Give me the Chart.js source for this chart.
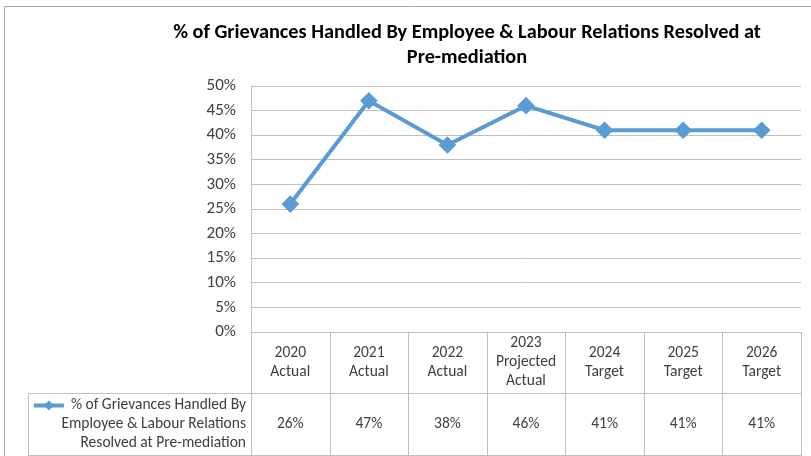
<!DOCTYPE html>
<html>
<head>
<meta charset="utf-8">
<script src="https://cdn.jsdelivr.net/npm/chart.js@4"></script>
<style>
  body { margin: 0; background: #fff; }
  #wrap { position: relative; width: 811px; height: 456px; }
</style>
</head>
<body>
<div id="wrap"><canvas id="myChart"></canvas></div>
<script>
const FONT = "Carlito, Lato, sans-serif";

const categories = [
  ["2020", "Actual"],
  ["2021", "Actual"],
  ["2022", "Actual"],
  ["2023", "Projected", "Actual"],
  ["2024", "Target"],
  ["2025", "Target"],
  ["2026", "Target"],
];
const resolvedPct = [26, 47, 38, 46, 41, 41, 41];
const seriesName = ["% of Grievances Handled By", "Employee & Labour Relations", "Resolved at Pre-mediation"];
const titleLines = ["% of Grievances Handled By Employee & Labour Relations Resolved at", "Pre-mediation"];
const yTicks = [0, 5, 10, 15, 20, 25, 30, 35, 40, 45, 50];

const lineColor = "#5B9BD5";
const gridColor = "#c0c0c0";
const textColor = "#404040";

// title, chart border and the Excel style data table under the plot
const dataTable = {
  id: "dataTable",
  afterDraw(chart) {
    const c = chart.ctx;
    const area = chart.chartArea;
    const x = chart.scales.x;
    const n = categories.length;
    const w = (area.right - area.left) / n;
    const top = area.bottom;
    const mid = top + 61;
    const bot = top + 124;
    const legLeft = 28;

    c.save();
    c.strokeStyle = "#a6a6a6";
    c.lineWidth = 1;
    c.beginPath();
    c.moveTo(4.5, 470);
    c.lineTo(4.5, 6.5);
    c.lineTo(830, 6.5);
    c.stroke();

    c.fillStyle = "#000";
    c.font = "bold 20.3px " + FONT;
    c.textAlign = "center";
    c.textBaseline = "middle";
    c.fillText(titleLines[0], 467, 33);
    c.fillText(titleLines[1], 467, 58);

    c.strokeStyle = gridColor;
    c.beginPath();
    for (let i = 0; i <= n; i++) {
      const lx = Math.round(area.left + i * w) + 0.5;
      c.moveTo(lx, top);
      c.lineTo(lx, bot);
    }
    c.moveTo(legLeft + 0.5, mid + 0.5);
    c.lineTo(area.right, mid + 0.5);
    c.moveTo(legLeft + 0.5, bot - 0.5);
    c.lineTo(area.right, bot - 0.5);
    c.moveTo(legLeft + 0.5, mid);
    c.lineTo(legLeft + 0.5, bot);
    c.stroke();

    c.fillStyle = textColor;
    c.font = "15.5px " + FONT;
    const lh = 19;
    categories.forEach((lines, i) => {
      const cx = x.getPixelForValue(i);
      const y0 = (top + mid) / 2 - (lines.length - 1) * lh / 2;
      lines.forEach((t, k) => c.fillText(t, cx, y0 + k * lh));
      c.fillText(resolvedPct[i] + "%", cx, (mid + bot) / 2);
    });

    // legend cell
    c.textAlign = "right";
    const ly0 = (mid + bot) / 2 - lh;
    seriesName.forEach((t, k) => c.fillText(t, area.left - 5, ly0 + k * lh));
    const tw = c.measureText(seriesName[0]).width;
    const kx = area.left - 5 - tw - 37;
    c.strokeStyle = lineColor;
    c.lineWidth = 4;
    c.beginPath();
    c.moveTo(kx, ly0);
    c.lineTo(kx + 30, ly0);
    c.stroke();
    c.fillStyle = lineColor;
    c.beginPath();
    c.moveTo(kx + 15, ly0 - 5);
    c.lineTo(kx + 20, ly0);
    c.lineTo(kx + 15, ly0 + 5);
    c.lineTo(kx + 10, ly0);
    c.closePath();
    c.fill();
    c.restore();
  },
};

new Chart(document.getElementById("myChart"), {
  type: "line",
  data: {
    labels: categories,
    datasets: [
      {
        label: seriesName.join(" "),
        data: resolvedPct,
        borderColor: lineColor,
        backgroundColor: lineColor,
        borderWidth: 4,
        pointStyle: "rectRot",
        radius: 6,
        hoverRadius: 6,
        tension: 0,
      },
    ],
  },
  options: {
    responsive: true,
    maintainAspectRatio: false,
    animation: false,
    layout: { padding: { left: 0, right: 5, top: 86, bottom: 116 } },
    plugins: {
      legend: { display: false },
      tooltip: { enabled: false },
      title: { display: false },
    },
    scales: {
      x: {
        offset: true,
        ticks: { display: false },
        grid: { display: false },
        border: { display: false },
      },
      y: {
        min: 0,
        max: 50,
        afterFit(scale) { scale.width = 251; },
        afterBuildTicks(scale) { scale.ticks = yTicks.map(v => ({ value: v })); },
        ticks: {
          color: textColor,
          font: { family: FONT, size: 17 },
          padding: 15,
          callback: v => v + "%",
        },
        grid: { color: gridColor, drawTicks: false },
        border: { color: gridColor },
      },
    },
  },
  plugins: [dataTable],
});
</script>
</body>
</html>
